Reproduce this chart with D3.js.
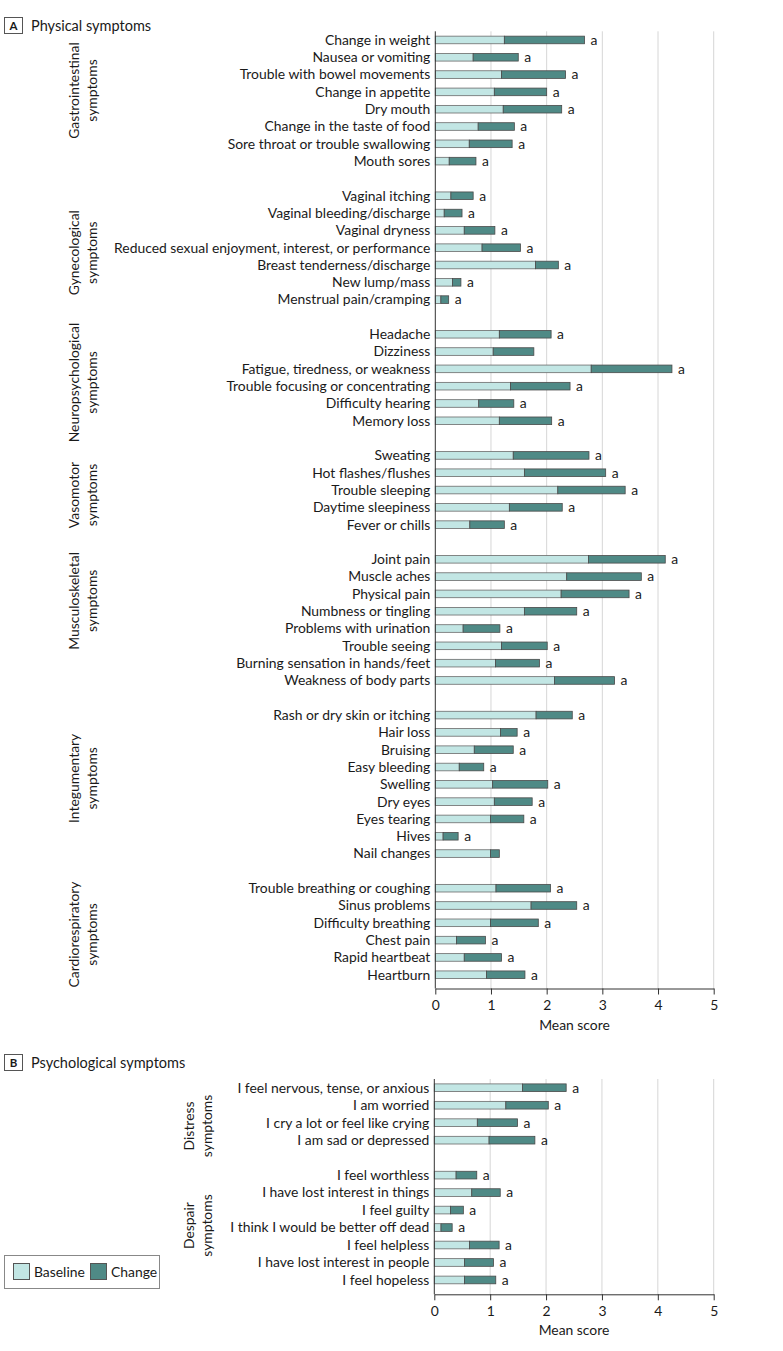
<!DOCTYPE html>
<html><head><meta charset="utf-8">
<script src="https://cdn.jsdelivr.net/npm/d3@7"></script>
<style>
body{margin:0;background:#fff}
text{font-family:Lato,"Liberation Sans",sans-serif;fill:#1a1a1a}
</style>
</head><body>
<svg id="c" width="783" height="1351"></svg>
<script>
// ---------- Data ----------
const physGroupNames = [
  ["Gastrointestinal","symptoms"],["Gynecological","symptoms"],["Neuropsychological","symptoms"],
  ["Vasomotor","symptoms"],["Musculoskeletal","symptoms"],["Integumentary","symptoms"],["Cardiorespiratory","symptoms"]
];
const physCategories = [
  "Change in weight","Nausea or vomiting","Trouble with bowel movements","Change in appetite","Dry mouth","Change in the taste of food","Sore throat or trouble swallowing","Mouth sores",
  "Vaginal itching","Vaginal bleeding/discharge","Vaginal dryness","Reduced sexual enjoyment, interest, or performance","Breast tenderness/discharge","New lump/mass","Menstrual pain/cramping",
  "Headache","Dizziness","Fatigue, tiredness, or weakness","Trouble focusing or concentrating","Difficulty hearing","Memory loss",
  "Sweating","Hot flashes/flushes","Trouble sleeping","Daytime sleepiness","Fever or chills",
  "Joint pain","Muscle aches","Physical pain","Numbness or tingling","Problems with urination","Trouble seeing","Burning sensation in hands/feet","Weakness of body parts",
  "Rash or dry skin or itching","Hair loss","Bruising","Easy bleeding","Swelling","Dry eyes","Eyes tearing","Hives","Nail changes",
  "Trouble breathing or coughing","Sinus problems","Difficulty breathing","Chest pain","Rapid heartbeat","Heartburn"
];
const physGroupOf = [
  0,0,0,0,0,0,0,0, 1,1,1,1,1,1,1, 2,2,2,2,2,2, 3,3,3,3,3, 4,4,4,4,4,4,4,4, 5,5,5,5,5,5,5,5,5, 6,6,6,6,6,6
];
const physBaseline = [
  1.24,0.68,1.19,1.06,1.22,0.77,0.61,0.25,
  0.28,0.16,0.52,0.84,1.80,0.31,0.10,
  1.15,1.04,2.80,1.35,0.78,1.15,
  1.40,1.60,2.20,1.33,0.62,
  2.75,2.36,2.26,1.60,0.50,1.19,1.08,2.14,
  1.81,1.17,0.70,0.43,1.03,1.06,0.99,0.14,0.99,
  1.09,1.72,0.99,0.38,0.52,0.92
];
const physChange = [
  1.44,0.81,1.15,0.94,1.05,0.65,0.77,0.48,
  0.40,0.32,0.55,0.69,0.41,0.15,0.14,
  0.93,0.73,1.45,1.07,0.63,0.94,
  1.36,1.46,1.21,0.95,0.62,
  1.38,1.34,1.22,0.94,0.66,0.82,0.79,1.08,
  0.65,0.30,0.70,0.44,0.99,0.68,0.60,0.27,0.16,
  0.98,0.82,0.86,0.52,0.67,0.69
];
const physSignificant = [
  1,1,1,1,1,1,1,1, 1,1,1,1,1,1,1, 1,0,1,1,1,1, 1,1,1,1,1, 1,1,1,1,1,1,1,1, 1,1,1,1,1,1,1,1,0, 1,1,1,1,1,1
];

const psychGroupNames = [["Distress","symptoms"],["Despair","symptoms"]];
const psychCategories = [
  "I feel nervous, tense, or anxious","I am worried","I cry a lot or feel like crying","I am sad or depressed",
  "I feel worthless","I have lost interest in things","I feel guilty","I think I would be better off dead","I feel helpless","I have lost interest in people","I feel hopeless"
];
const psychGroupOf = [0,0,0,0, 1,1,1,1,1,1,1];
const psychBaseline = [1.58,1.28,0.77,0.98, 0.39,0.67,0.29,0.12,0.63,0.54,0.54];
const psychChange   = [0.78,0.76,0.72,0.82, 0.37,0.51,0.23,0.20,0.53,0.52,0.56];
const psychSignificant = [1,1,1,1, 1,1,1,1,1,1,1];

const xTicks = [0,1,2,3,4,5];
const xTitle = "Mean score";
const legendItems = ["Baseline","Change"];

// ---------- Styles / layout ----------
const colBase = "#c2e6e4", colChange = "#4f8a86", colStroke = "#4a4a4a";
const fs = 13.9;
// small vertical nudges (px) of the rotated group labels, as placed in the original figure
const physLabelNudge = [-10, 5, 5, 5, -19, -6, 3];
const psychLabelNudge = [12, -2];
const svg = d3.select("#c");

function drawPanel(o){
  const rows = [];
  o.categories.forEach((c,i)=>{
    if(i>0 && o.groupOf[i]!==o.groupOf[i-1]) rows.push("__gap"+i);
    rows.push(c);
  });
  const y = d3.scaleBand().domain(rows).range([o.yTop,o.yBottom]).paddingInner(0).paddingOuter(0);
  const x = d3.scaleLinear().domain([0,5]).range([o.x0,o.x1]);
  const bh = y.bandwidth()*0.44;
  const g = svg.append("g");

  g.selectAll("line.grid").data(xTicks.filter(t=>t>0)).join("line")
    .attr("x1",d=>x(d)).attr("x2",d=>x(d)).attr("y1",o.yTop).attr("y2",o.axisY)
    .attr("stroke","#d6d6d6").attr("stroke-width",1);

  const data = o.categories.map((c,i)=>({c,b:o.baseline[i],ch:o.change[i],s:o.sig[i]}));
  const cy = d=>y(d.c)+y.bandwidth()/2;
  g.selectAll("rect.b").data(data).join("rect")
    .attr("x",x(0)).attr("y",d=>cy(d)-bh/2).attr("width",d=>x(d.b)-x(0)).attr("height",bh)
    .attr("fill",colBase).attr("stroke","#6a6a6a").attr("stroke-width",0.8);
  g.selectAll("rect.c").data(data).join("rect")
    .attr("x",d=>x(d.b)).attr("y",d=>cy(d)-bh/2).attr("width",d=>x(d.b+d.ch)-x(d.b)).attr("height",bh)
    .attr("fill",colChange).attr("stroke",colStroke).attr("stroke-width",0.8);
  g.selectAll("text.a").data(data.filter(d=>d.s)).join("text")
    .attr("x",d=>x(d.b+d.ch)+6).attr("y",cy).attr("dy","0.35em")
    .attr("font-size",fs).text("a");

  g.selectAll("text.cat").data(data).join("text")
    .attr("x",o.x0-5).attr("y",cy).attr("dy","0.35em").attr("text-anchor","end")
    .attr("font-size",fs).text(d=>d.c);

  o.groupNames.forEach((gn,gi)=>{
    const members = o.categories.filter((c,i)=>o.groupOf[i]===gi);
    const mid = (y(members[0]) + y(members[members.length-1]) + y.bandwidth())/2 + o.nudge[gi];
    gn.forEach((line,li)=>{
      g.append("text").attr("transform",`translate(${o.groupX+li*18},${mid}) rotate(-90)`)
        .attr("text-anchor","middle").attr("font-size",fs).text(line);
    });
  });

  g.append("line").attr("x1",x(0)).attr("x2",x(0)).attr("y1",o.yTop).attr("y2",o.axisY)
    .attr("stroke","#333").attr("stroke-width",1);
  const ax = g.append("g").attr("transform",`translate(0,${o.axisY})`)
    .call(d3.axisBottom(x).tickValues(xTicks).tickFormat(d3.format("d")).tickSize(6).tickSizeOuter(0));
  ax.select(".domain").attr("stroke","#333");
  ax.selectAll(".tick line").attr("stroke","#333");
  ax.selectAll(".tick text").attr("font-size",fs).attr("font-family","Lato, sans-serif").attr("fill","#1a1a1a").attr("dy","0.9em");
  g.append("text").attr("x",(x(0)+x(5))/2).attr("y",o.axisY+41).attr("text-anchor","middle")
    .attr("font-size",fs).text(xTitle);

  g.append("rect").attr("x",4.5).attr("y",o.labelY).attr("width",18).attr("height",16)
    .attr("fill","#fff").attr("stroke","#555").attr("stroke-width",1);
  g.append("text").attr("x",13.5).attr("y",o.labelY+12.5).attr("text-anchor","middle")
    .attr("font-size",11.5).attr("font-weight","bold").text(o.letter);
  g.append("text").attr("x",31).attr("y",o.labelY+13).attr("font-size",14.5).text(o.title);
}

drawPanel({categories:physCategories,groupOf:physGroupOf,groupNames:physGroupNames,nudge:physLabelNudge,
  baseline:physBaseline,change:physChange,sig:physSignificant,
  yTop:31.3,yBottom:983.4,axisY:988.5,x0:435.3,x1:713.7,groupX:79,labelY:17.5,letter:"A",title:"Physical symptoms"});
drawPanel({categories:psychCategories,groupOf:psychGroupOf,groupNames:psychGroupNames,nudge:psychLabelNudge,
  baseline:psychBaseline,change:psychChange,sig:psychSignificant,
  yTop:1079,yBottom:1288.7,axisY:1294.3,x0:434.3,x1:713.7,groupX:194,labelY:1054.5,letter:"B",title:"Psychological symptoms"});

const lg = svg.append("g");
lg.append("rect").attr("x",4.5).attr("y",1255.5).attr("width",155).attr("height",33)
  .attr("fill","#fff").attr("stroke","#888");
const lx = [13,90], lcol=[colBase,colChange];
legendItems.forEach((t,i)=>{
  lg.append("rect").attr("x",lx[i]+0.5).attr("y",1263.5).attr("width",16).attr("height",16)
    .attr("fill",lcol[i]).attr("stroke","#555");
  lg.append("text").attr("x",lx[i]+21).attr("y",1276.5).attr("font-size",fs).text(t);
});
</script>
</body></html>
